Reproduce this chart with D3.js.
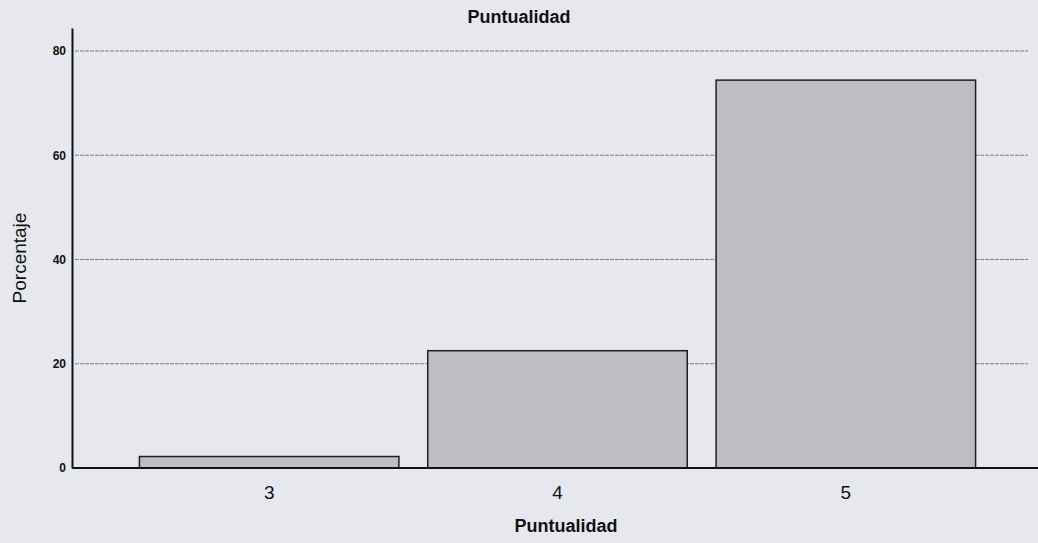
<!DOCTYPE html>
<html>
<head>
<meta charset="utf-8">
<script src="https://cdn.jsdelivr.net/npm/d3@7"></script>
<style>
  body { margin: 0; background: #e6e8ee; }
  svg { display: block; }
  text { font-family: "Liberation Sans", Arial, sans-serif; fill: #111; }
</style>
</head>
<body>
<div id="chart"></div>
<script>
// data
var categories = ["3", "4", "5"];
var percentages = [2.2, 22.5, 74.4];
var y_ticks = [0, 20, 40, 60, 80];

var view_width = 1038;
var view_height = 543;

var svg = d3.select("#chart")
    .append("svg")
        .attr("width", view_width)
        .attr("height", view_height);

svg.append("rect")
    .attr("width", view_width)
    .attr("height", view_height)
    .attr("fill", "#e6e8ee");

var x_scale = d3.scaleBand()
    .domain(categories)
    .range([125, 990])
    .paddingInner(0.1)
    .paddingOuter(0.05);

var y_scale = d3.scaleLinear()
    .domain([0, 84.4])
    .range([468, 28]);

// gridlines
svg.append("g")
    .selectAll("line")
    .data(y_ticks.filter(function(d) { return d > 0; }))
    .enter()
    .append("line")
        .attr("x1", 75)
        .attr("x2", 1028)
        .attr("y1", function(d) { return y_scale(d); })
        .attr("y2", function(d) { return y_scale(d); })
        .attr("stroke", "#7a7d84")
        .attr("stroke-width", 1)
        .attr("stroke-dasharray", "4,1");

// bars
svg.append("g")
    .selectAll(".bar")
    .data(percentages)
    .enter()
    .append("rect")
        .attr("class", "bar")
        .attr("x", function(d, i) { return x_scale(categories[i]); })
        .attr("width", x_scale.bandwidth())
        .attr("y", function(d) { return y_scale(d); })
        .attr("height", function(d) { return y_scale(0) - y_scale(d); })
        .attr("fill", "#bcbec3")
        .attr("stroke", "#1e1e1e")
        .attr("stroke-width", 1.5);

// y axis
var y_axis = svg.append("g")
    .attr("transform", "translate(72,0)")
    .call(d3.axisLeft(y_scale).tickValues(y_ticks).tickSize(0).tickPadding(6));
y_axis.select(".domain")
    .attr("stroke", "#111")
    .attr("stroke-width", 2);
y_axis.selectAll("text")
    .style("font-size", "12px")
    .style("font-weight", "bold")
    .style("font-family", "'Liberation Sans', Arial, sans-serif")
    .attr("fill", "#222");

// x axis
var x_axis = svg.append("g")
    .attr("transform", "translate(0," + y_scale(0) + ")")
    .call(d3.axisBottom(x_scale).tickSize(0).tickPadding(18));
x_axis.select(".domain")
    .attr("d", "M72,0H1038")
    .attr("stroke", "#111")
    .attr("stroke-width", 2);
x_axis.selectAll("text")
    .style("font-size", "19px")
    .style("font-family", "'Liberation Sans', Arial, sans-serif")
    .attr("fill", "#111");

// titles
svg.append("text")
    .attr("x", 519)
    .attr("y", 23)
    .attr("text-anchor", "middle")
    .style("font-size", "18px")
    .style("font-weight", "bold")
    .text("Puntualidad");

svg.append("text")
    .attr("x", 566)
    .attr("y", 532)
    .attr("text-anchor", "middle")
    .style("font-size", "18px")
    .style("font-weight", "bold")
    .text("Puntualidad");

svg.append("text")
    .attr("transform", "translate(26,258)rotate(-90)")
    .attr("text-anchor", "middle")
    .style("font-size", "19px")
    .text("Porcentaje");
</script>
</body>
</html>
